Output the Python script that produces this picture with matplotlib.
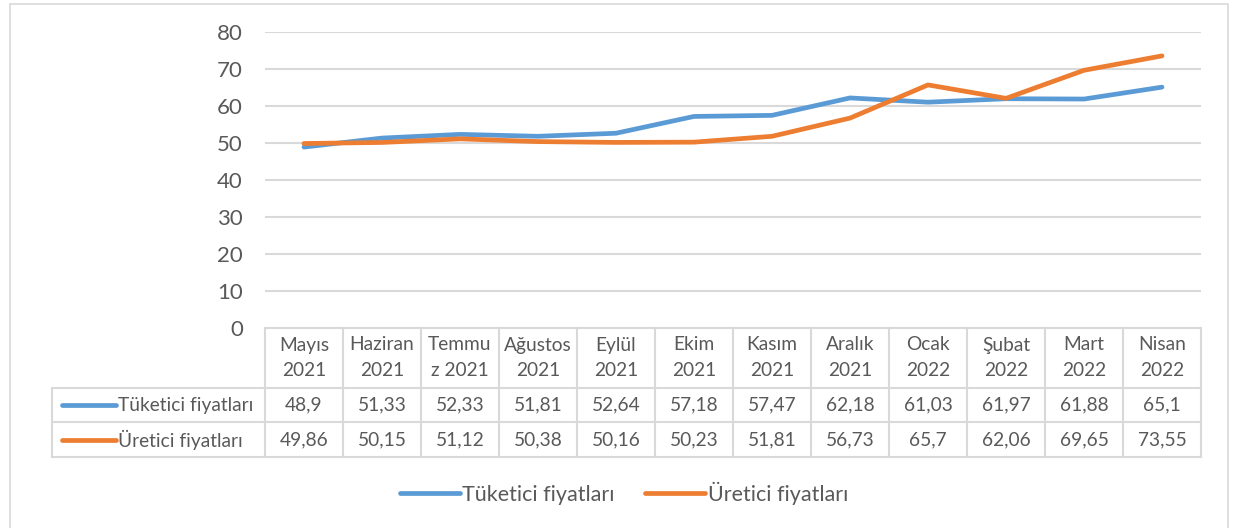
import matplotlib
matplotlib.use("Agg")
import matplotlib.pyplot as plt
from matplotlib.transforms import blended_transform_factory
from matplotlib.patches import Rectangle
from matplotlib.lines import Line2D

plt.rcParams['font.family'] = ['Lato', 'DejaVu Sans']

months = ["Mayıs\n2021", "Haziran\n2021", "Temmu\nz 2021", "Ağustos\n2021", "Eylül\n2021",
          "Ekim\n2021", "Kasım\n2021", "Aralık\n2021", "Ocak\n2022", "Şubat\n2022",
          "Mart\n2022", "Nisan\n2022"]
tuketici = [48.9, 51.33, 52.33, 51.81, 52.64, 57.18, 57.47, 62.18, 61.03, 61.97, 61.88, 65.1]
uretici = [49.86, 50.15, 51.12, 50.38, 50.16, 50.23, 51.81, 56.73, 65.7, 62.06, 69.65, 73.55]
series_names = ["Tüketici fiyatları", "Üretici fiyatları"]
series_values = [tuketici, uretici]
colors = ["#5B9BD5", "#ED7D31"]
yticks = [0, 10, 20, 30, 40, 50, 60, 70, 80]

W, H = 1233, 528
fig = plt.figure(figsize=(W / 100, H / 100), dpi=100)
TXT = "#595959"
GRID = "#D9D9D9"

# outer chart border
fig.patches.append(Rectangle((10 / W, -0.02), (1228 - 10) / W, (H - 4) / H + 0.02,
                             transform=fig.transFigure, fill=False, edgecolor=GRID, lw=1.2))

ax_l, ax_r, ax_t, ax_b = 265, 1201, 32, 328
ax = fig.add_axes([ax_l / W, (H - ax_b) / H, (ax_r - ax_l) / W, (ax_b - ax_t) / H])
n = len(months)
x = list(range(n))
ax.set_xlim(-0.5, n - 0.5)
ax.set_ylim(0, 80)
ax.set_yticks(yticks)
ax.tick_params(axis='y', length=0, pad=16, labelsize=16, labelcolor=TXT)
ax.set_xticks([])
for s in ax.spines.values():
    s.set_visible(False)
ax.grid(axis='y', color=GRID, lw=1.5)
ax.set_axisbelow(True)

handles = []
for name, vals, c in zip(series_names, series_values, colors):
    h, = ax.plot(x, vals, color=c, lw=3.4, solid_capstyle='round', label=name)
    handles.append(h)

# data table
tr = blended_transform_factory(ax.transData, ax.transAxes)
def ay(py):
    return (ax_b - py) / (ax_b - ax_t)

y_top, y_h, y_r1, y_r2 = ay(328), ay(388), ay(422), ay(457)
lab_left_px = 52
pxw = (ax_r - ax_l) / n
x_lab_left = -0.5 - (ax_l - lab_left_px) / pxw

lk = dict(transform=tr, color=GRID, lw=1.5, clip_on=False)
ax.add_line(Line2D([-0.5, n - 0.5], [y_top, y_top], **lk))
for yy in (y_h, y_r1, y_r2):
    ax.add_line(Line2D([x_lab_left, n - 0.5], [yy, yy], **lk))
for i in range(n + 1):
    ax.add_line(Line2D([i - 0.5, i - 0.5], [y_top, y_r2], **lk))
ax.add_line(Line2D([x_lab_left, x_lab_left], [y_h, y_r2], **lk))

fs = 13.8
for i, m in enumerate(months):
    top, bot = m.split("\n")
    ax.text(i, ay(345), top, transform=tr, ha='center', va='center', fontsize=fs, color=TXT)
    ax.text(i, ay(370), bot, transform=tr, ha='center', va='center', fontsize=fs, color=TXT)

row_y = [ay(405), ay(440)]
for r, (name, vals, c) in enumerate(zip(series_names, series_values, colors)):
    for i, v in enumerate(vals):
        s = f"{v:g}".replace(".", ",")
        ax.text(i, row_y[r], s, transform=tr, ha='center', va='center', fontsize=fs, color=TXT)
    x0 = -0.5 - (ax_l - 62) / pxw
    x1 = -0.5 - (ax_l - 116) / pxw
    ax.add_line(Line2D([x0, x1], [row_y[r], row_y[r]], transform=tr, color=c, lw=3.4,
                       solid_capstyle='round', clip_on=False))
    xt = -0.5 - (ax_l - 118) / pxw
    ax.text(xt, row_y[r], name, transform=tr, ha='left', va='center', fontsize=fs, color=TXT)

leg = fig.legend(handles=handles, loc='center', bbox_to_anchor=(624 / W, 1 - 493 / H),
                 ncol=2, frameon=False, fontsize=15.5, handlelength=2.8, handletextpad=0.1,
                 columnspacing=1.4, labelcolor=TXT)

fig.savefig("out.png", dpi=100)
